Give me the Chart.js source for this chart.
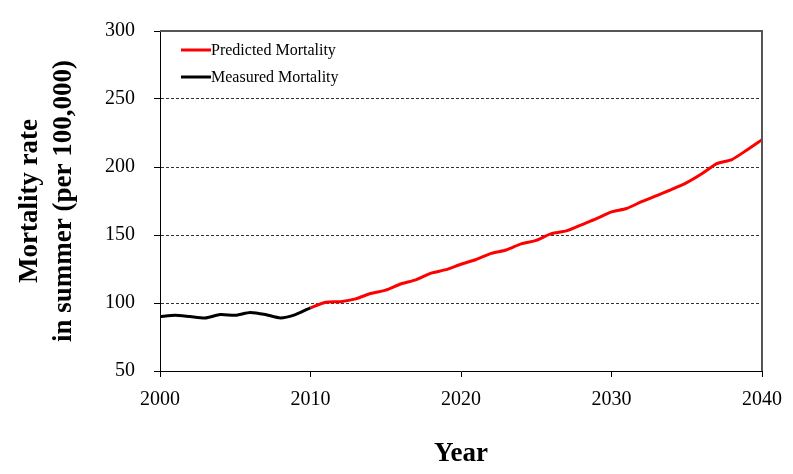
<!DOCTYPE html>
<html>
<head>
<meta charset="utf-8">
<script src="https://cdn.jsdelivr.net/npm/chart.js@4/dist/chart.umd.min.js"></script>
<style>
  html, body { margin: 0; padding: 0; background: #fff; }
  #wrap { width: 793px; height: 474px; }
</style>
</head>
<body>
<div id="wrap"><canvas id="chart" width="793" height="474"></canvas></div>
<script>
const measuredYears = [2000, 2001, 2002, 2003, 2004, 2005, 2006, 2007, 2008, 2009, 2010];
const measuredValues = [90, 91, 90, 89, 91.5, 91, 93, 91.5, 89, 91.5, 96.5];

const predictedYears = [2010, 2011, 2012, 2013, 2014, 2015, 2016, 2017, 2018, 2019, 2020,
  2021, 2022, 2023, 2024, 2025, 2026, 2027, 2028, 2029, 2030,
  2031, 2032, 2033, 2034, 2035, 2036, 2037, 2038, 2039, 2040];
const predictedValues = [96.5, 100.5, 101, 103, 107, 109.5, 114, 117, 122, 124.5, 128.5,
  132, 136.5, 139, 143.5, 146, 151, 153, 157.5, 162, 167,
  169.5, 174.5, 179, 183.5, 188.5, 195, 202.5, 205.5, 212.5, 220];

const yTitle = ["Mortality rate", "in summer (per 100,000)"];
const xTitle = "Year";

const serif = "'Liberation Serif', 'Times New Roman', serif";

function toPoints(xs, ys) {
  return xs.map((x, i) => ({ x: x, y: ys[i] }));
}

// legend drawn inside the plot, top-left
const innerLegend = {
  id: "innerLegend",
  afterDraw(chart) {
    const ctx = chart.ctx;
    const a = chart.chartArea;
    ctx.save();
    ctx.font = "16px " + serif;
    ctx.textBaseline = "middle";
    chart.data.datasets.slice().reverse().forEach((ds, i) => {
      const y = a.top + 19 + i * 27;
      ctx.strokeStyle = ds.borderColor;
      ctx.lineWidth = 3;
      ctx.beginPath();
      ctx.moveTo(a.left + 21, y);
      ctx.lineTo(a.left + 51, y);
      ctx.stroke();
      ctx.fillStyle = "#000";
      ctx.fillText(ds.label, a.left + 51, y + 1);
    });
    ctx.restore();
  }
};

// top and right frame of the plot
const frame = {
  id: "frame",
  afterDatasetsDraw(chart) {
    const ctx = chart.ctx;
    const a = chart.chartArea;
    ctx.save();
    ctx.strokeStyle = "#555";
    ctx.lineWidth = 2;
    ctx.beginPath();
    ctx.moveTo(a.left, a.top);
    ctx.lineTo(a.right, a.top);
    ctx.lineTo(a.right, a.bottom);
    ctx.stroke();
    ctx.restore();
  }
};

new Chart(document.getElementById("chart"), {
  type: "line",
  data: {
    datasets: [
      {
        label: "Measured Mortality",
        data: toPoints(measuredYears, measuredValues),
        borderColor: "#000000",
        borderWidth: 3,
        pointRadius: 0,
        tension: 0.2,
        order: 1
      },
      {
        label: "Predicted Mortality",
        data: toPoints(predictedYears, predictedValues),
        borderColor: "#ff0000",
        borderWidth: 3,
        pointRadius: 0,
        tension: 0.2,
        order: 2
      }
    ]
  },
  options: {
    responsive: false,
    animation: false,
    layout: { padding: { left: 0, right: 31, top: 29, bottom: 0 } },
    plugins: {
      legend: { display: false },
      tooltip: { enabled: false }
    },
    scales: {
      x: {
        type: "linear",
        min: 2000,
        max: 2040,
        afterFit: (scale) => { scale.height = 103; },
        ticks: {
          stepSize: 10,
          color: "#000",
          padding: 11,
          font: { family: serif, size: 20 },
          callback: (v) => String(v)
        },
        grid: {
          drawOnChartArea: false,
          tickLength: 6,
          tickColor: "#000"
        },
        border: { color: "#000", width: 1 },
        title: {
          display: true,
          text: xTitle,
          color: "#000",
          font: { family: serif, size: 27, weight: "bold" },
          padding: { top: 0, bottom: 4 }
        }
      },
      y: {
        min: 50,
        max: 300,
        afterFit: (scale) => { scale.width = 160; },
        ticks: {
          stepSize: 50,
          color: "#000",
          padding: 19,
          font: { family: serif, size: 20 }
        },
        grid: {
          color: (c) => (c.tick && (c.tick.value === 50 || c.tick.value === 300)) ? "rgba(0,0,0,0)" : "#333",
          tickColor: "#000",
          tickLength: 6,
          tickBorderDash: []
        },
        border: { color: "#000", width: 1, dash: [3, 2] },
        title: {
          display: true,
          text: yTitle,
          color: "#000",
          font: { family: serif, size: 27, weight: "bold", lineHeight: 1.26 },
          padding: { top: 13, bottom: 0 }
        }
      }
    }
  },
  plugins: [innerLegend, frame]
});
</script>
</body>
</html>
